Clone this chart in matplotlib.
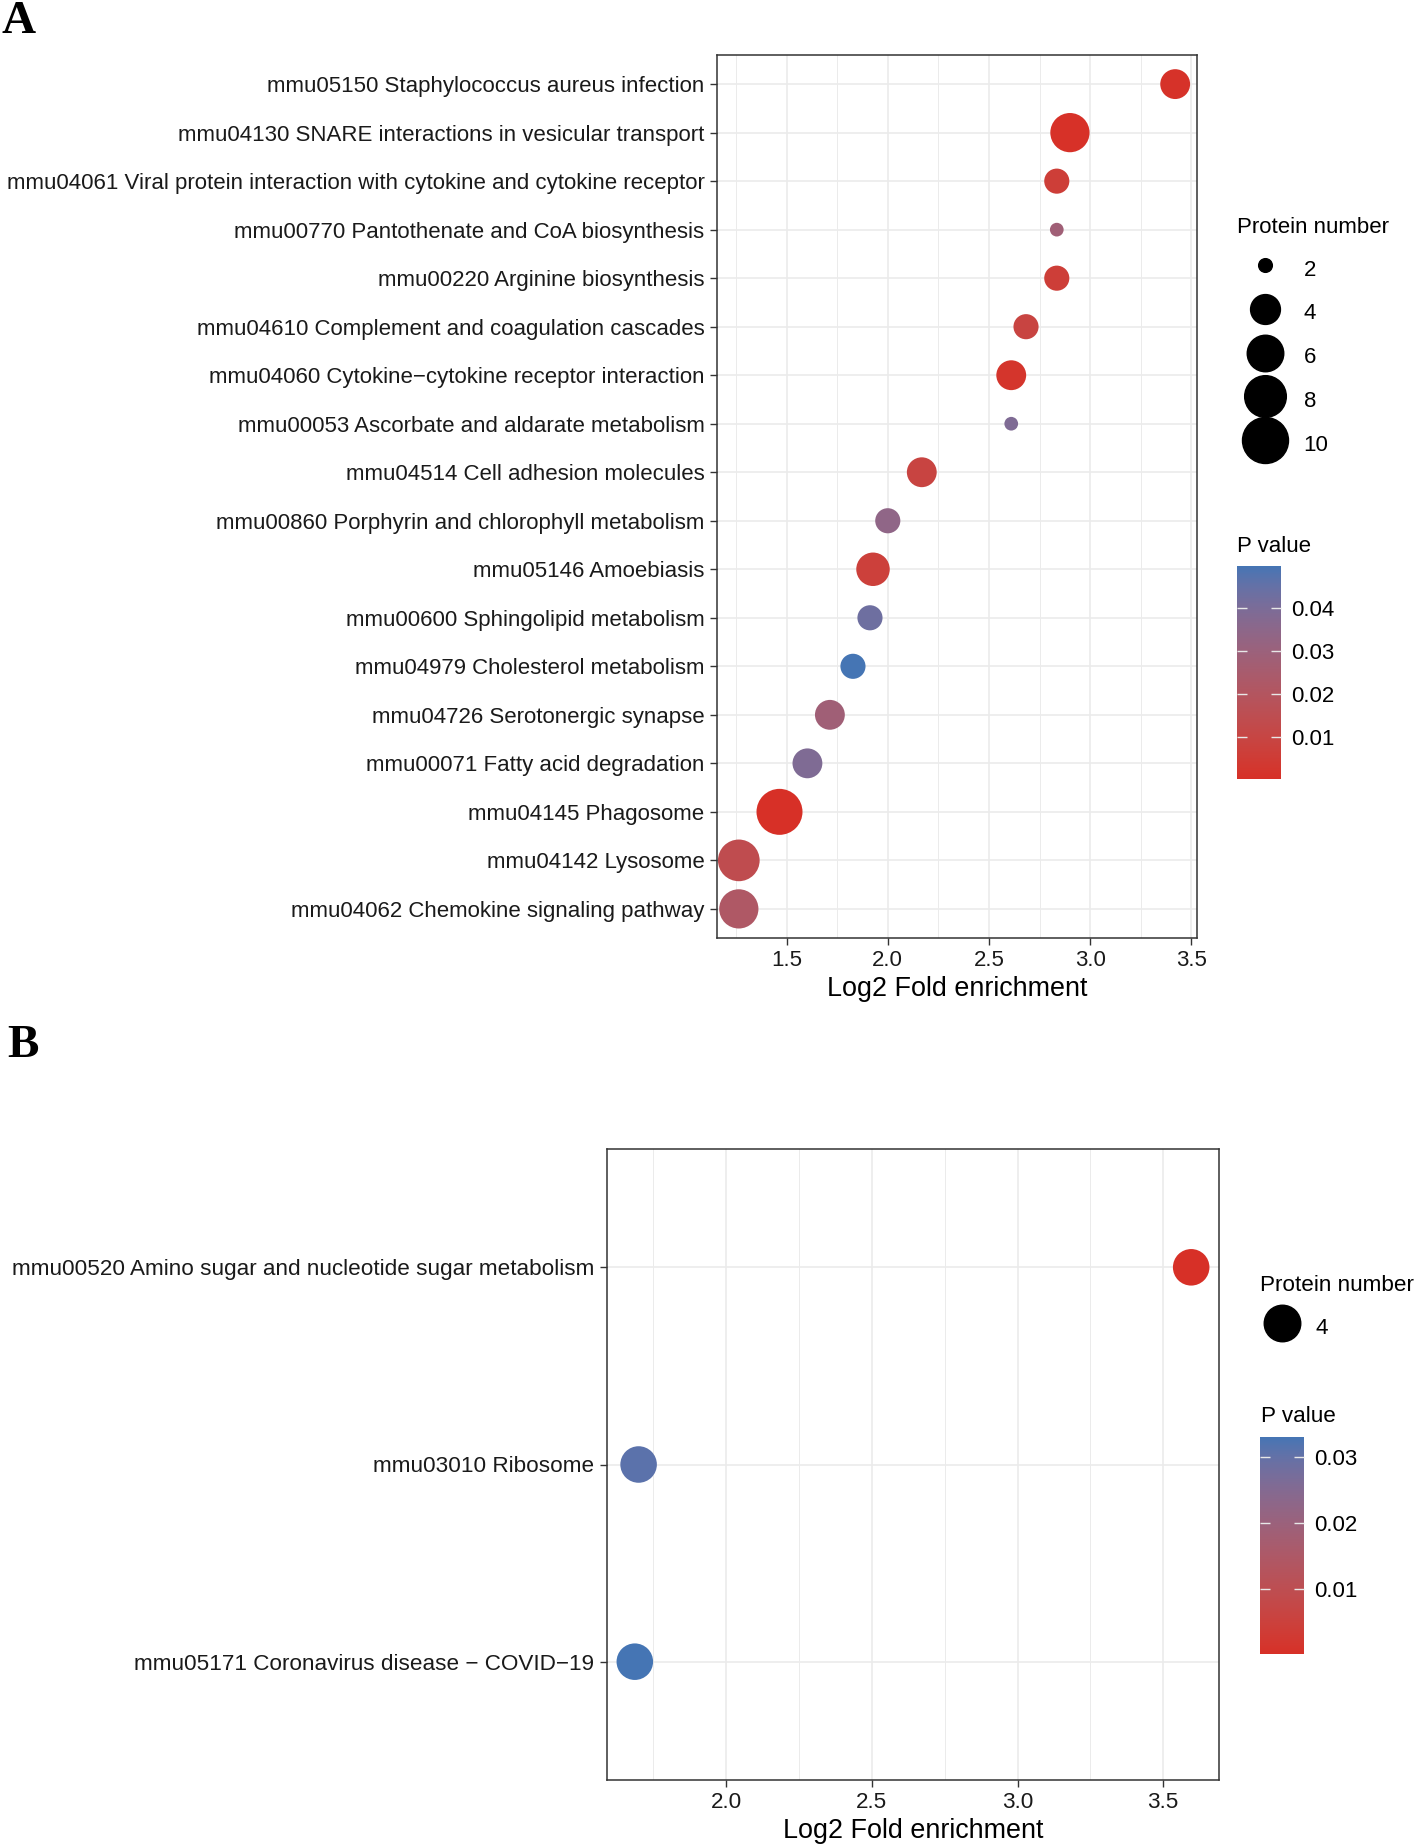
import numpy as np
import matplotlib
matplotlib.use('Agg')
import matplotlib.pyplot as plt
from matplotlib.colors import ListedColormap
from matplotlib.lines import Line2D

# ---- panel A data (KEGG pathways, top to bottom) ----
pathways_a = [
    'mmu05150 Staphylococcus aureus infection',
    'mmu04130 SNARE interactions in vesicular transport',
    'mmu04061 Viral protein interaction with cytokine and cytokine receptor',
    'mmu00770 Pantothenate and CoA biosynthesis',
    'mmu00220 Arginine biosynthesis',
    'mmu04610 Complement and coagulation cascades',
    'mmu04060 Cytokine\u2212cytokine receptor interaction',
    'mmu00053 Ascorbate and aldarate metabolism',
    'mmu04514 Cell adhesion molecules',
    'mmu00860 Porphyrin and chlorophyll metabolism',
    'mmu05146 Amoebiasis',
    'mmu00600 Sphingolipid metabolism',
    'mmu04979 Cholesterol metabolism',
    'mmu04726 Serotonergic synapse',
    'mmu00071 Fatty acid degradation',
    'mmu04145 Phagosome',
    'mmu04142 Lysosome',
    'mmu04062 Chemokine signaling pathway',
]
log2fe_a = [3.42, 2.90, 2.835, 2.835, 2.835, 2.683, 2.61, 2.61, 2.168, 2.0,
            1.927, 1.912, 1.828, 1.714, 1.603, 1.465, 1.264, 1.264]
count_a = [4, 7, 3, 2, 3, 3, 4, 2, 4, 3, 5, 3, 3, 4, 4, 10, 8, 7]
pval_a = [0.001, 0.0004, 0.006, 0.028, 0.006, 0.009, 0.002, 0.039, 0.009, 0.034,
          0.007, 0.043, 0.0499, 0.028, 0.039, 0.0001, 0.014, 0.022]
size_breaks_a = [2, 4, 6, 8, 10]
pticks_a = [0.01, 0.02, 0.03, 0.04]

# ---- panel B data ----
pathways_b = [
    'mmu00520 Amino sugar and nucleotide sugar metabolism',
    'mmu03010 Ribosome',
    'mmu05171 Coronavirus disease \u2212 COVID\u221219',
]
log2fe_b = [3.596, 1.699, 1.686]
count_b = [4, 4, 4]
pval_b = [0.0002, 0.031, 0.0331]
size_breaks_b = [4]
pticks_b = [0.01, 0.02, 0.03]

W, H = 1416, 1846
SANS = 'Liberation Sans'
FS_A = 16.0     # axis/legend text (pt)
FS_B = 16.2
FS_TITLE = 19.4
DMIN, DMAX = 13.7, 46.0  # point diameter range in px


def hex2rgb(h):
    h = h.lstrip('#')
    return np.array([int(h[i:i + 2], 16) / 255 for i in (0, 2, 4)])


def rgb2lab(c):
    c = np.where(c <= 0.04045, c / 12.92, ((c + 0.055) / 1.055) ** 2.4)
    m = np.array([[0.4124, 0.3576, 0.1805], [0.2126, 0.7152, 0.0722], [0.0193, 0.1192, 0.9505]])
    xyz = m @ c / np.array([0.95047, 1.0, 1.08883])
    f = np.where(xyz > 0.008856, np.cbrt(xyz), 7.787 * xyz + 16 / 116)
    return np.array([116 * f[1] - 16, 500 * (f[0] - f[1]), 200 * (f[1] - f[2])])


def lab2rgb(lab):
    fy_ = (lab[0] + 16) / 116
    f = np.array([fy_ + lab[1] / 500, fy_, fy_ - lab[2] / 200])
    xyz = np.where(f ** 3 > 0.008856, f ** 3, (f - 16 / 116) / 7.787) * np.array([0.95047, 1.0, 1.08883])
    m = np.array([[3.2406, -1.5372, -0.4986], [-0.9689, 1.8758, 0.0415], [0.0557, -0.2040, 1.0570]])
    c = m @ xyz
    c = np.where(c <= 0.0031308, 12.92 * c, 1.055 * np.clip(c, 0, None) ** (1 / 2.4) - 0.055)
    return np.clip(c, 0, 1)


# red (low p) -> blue (high p), interpolated in Lab like ggplot
lo_lab, hi_lab = rgb2lab(hex2rgb('#D73027')), rgb2lab(hex2rgb('#4575B4'))
cmap = ListedColormap([lab2rgb(lo_lab + t * (hi_lab - lo_lab)) for t in np.linspace(0, 1, 256)])


def dot_px(n, lo, hi):
    t = 0.5 if hi == lo else (n - lo) / (hi - lo)
    return DMIN + (DMAX - DMIN) * np.sqrt(t)


def px2pt(d):
    return d * 72 / 100


def fx(x):
    return x / W


def fy(y):
    return 1 - y / H


def panel(fig, rect, names, xs, ns, ps, xticks, xminor, fs):
    ax = fig.add_axes(rect)
    ypos = np.arange(len(names))
    lo, hi = min(ns), max(ns)
    sizes = [px2pt(dot_px(n, lo, hi)) ** 2 for n in ns]
    sc = ax.scatter(xs, ypos, s=sizes, c=ps, cmap=cmap, linewidths=0, zorder=3)
    rng = max(xs) - min(xs)
    ax.set_xlim(min(xs) - 0.05 * rng, max(xs) + 0.05 * rng)
    ax.set_ylim(len(names) - 0.4, -0.6)
    ax.set_yticks(ypos)
    ax.set_yticklabels(names)
    ax.set_xticks(xticks)
    ax.set_xticklabels([f'{t:.1f}' for t in xticks])
    ax.set_xticks(xminor, minor=True)
    ax.grid(which='major', color='#EBEBEB', lw=1.2)
    ax.grid(which='minor', axis='x', color='#EBEBEB', lw=0.7)
    ax.set_axisbelow(True)
    for s in ax.spines.values():
        s.set_color('#333333')
        s.set_linewidth(1.1)
    ax.tick_params(which='major', length=5, width=1.0, color='#333333', pad=4,
                   labelsize=fs, labelcolor='#1a1a1a')
    ax.tick_params(which='minor', length=0)
    for lab in ax.get_xticklabels() + ax.get_yticklabels():
        lab.set_family(SANS)
    ax.set_xlabel('Log2 Fold enrichment', fontsize=FS_TITLE, family=SANS, labelpad=3)
    return ax, sc, lo, hi


def size_legend(fig, breaks, lo, hi, anchor, hlen, fs):
    handles = [Line2D([], [], ls='', marker='o', color='black',
                      markersize=px2pt(dot_px(n, lo, hi))) for n in breaks]
    return fig.legend(handles, [str(n) for n in breaks], title='Protein number',
                      loc='upper left', bbox_to_anchor=anchor, frameon=False,
                      alignment='left', borderpad=0, borderaxespad=0, handlelength=hlen,
                      handleheight=1.5, handletextpad=0.5, labelspacing=0.75,
                      prop={'family': SANS, 'size': fs},
                      title_fontproperties={'family': SANS, 'size': fs})


fig = plt.figure(figsize=(W / 100, H / 100), dpi=100)

# ---------------- panel A ----------------
axA, scA, loA, hiA = panel(fig, [fx(717), fy(938), fx(1197) - fx(717), fy(55) - fy(938)],
                           pathways_a, log2fe_a, count_a, pval_a,
                           [1.5, 2.0, 2.5, 3.0, 3.5], [1.25, 1.75, 2.25, 2.75, 3.25], FS_A)
size_legend(fig, size_breaks_a, loA, hiA, (fx(1237), fy(217)), 2.5, FS_A)

caxA = fig.add_axes([fx(1237), fy(779), fx(1281) - fx(1237), fy(566) - fy(779)])
cbA = fig.colorbar(scA, cax=caxA, ticks=pticks_a)
fig.text(fx(1237), fy(546), 'P value', ha='left', va='center', fontsize=FS_A, family=SANS)

# ---------------- panel B ----------------
axB, scB, loB, hiB = panel(fig, [fx(607), fy(1780), fx(1219) - fx(607), fy(1149) - fy(1780)],
                           pathways_b, log2fe_b, count_b, pval_b,
                           [2.0, 2.5, 3.0, 3.5], [1.75, 2.25, 2.75, 3.25], FS_B)
size_legend(fig, size_breaks_b, loB, hiB, (fx(1260), fy(1275)), 1.95, FS_B)

caxB = fig.add_axes([fx(1260), fy(1654), fx(1304) - fx(1260), fy(1437) - fy(1654)])
cbB = fig.colorbar(scB, cax=caxB, ticks=pticks_b)
fig.text(fx(1261), fy(1417), 'P value', ha='left', va='center', fontsize=FS_B, family=SANS)

for cb in (cbA, cbB):
    cb.outline.set_visible(False)
    cb.minorticks_off()
    cb.ax.tick_params(which='major', direction='in', length=7, width=1.0, color='#e8e8e8',
                      left=True, right=True, labelright=True, pad=7, labelsize=FS_A)
    for lab in cb.ax.get_yticklabels():
        lab.set_family(SANS)

# panel letters
fig.text(fx(1), fy(33), 'A', ha='left', va='baseline', fontsize=34, fontweight='bold',
         family='Liberation Serif')
fig.text(fx(7), fy(1057), 'B', ha='left', va='baseline', fontsize=34, fontweight='bold',
         family='Liberation Serif')

fig.savefig('out.png', dpi=100)
